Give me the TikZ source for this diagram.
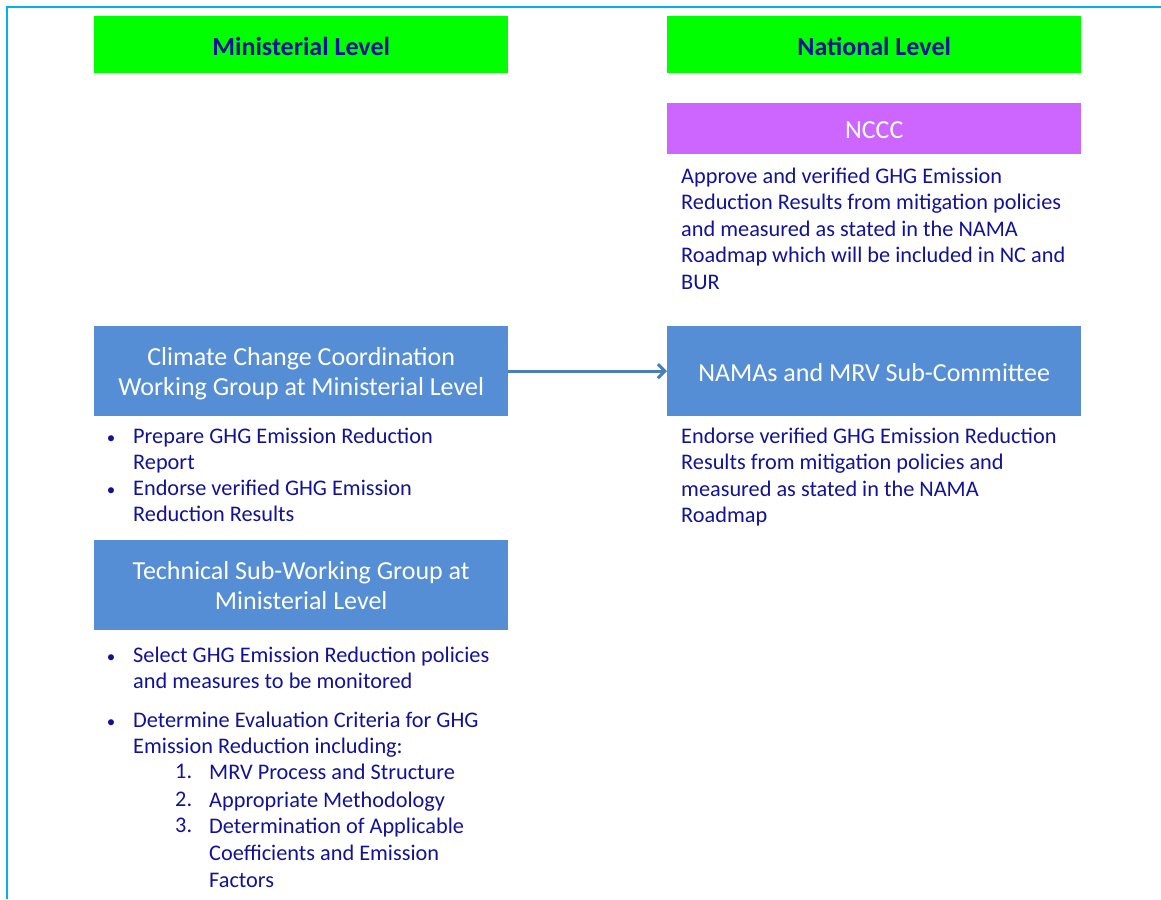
\documentclass[tikz,border=0pt]{standalone}
\usepackage{fontspec}
\setmainfont{Carlito}
\usepackage{tikz}
\usetikzlibrary{arrows.meta}

\definecolor{navytext}{RGB}{18,18,150}
\definecolor{levelgreen}{RGB}{0,255,0}
\definecolor{ncccpurple}{RGB}{204,102,255}
\definecolor{groupblue}{RGB}{85,142,213}
\definecolor{arrowblue}{RGB}{74,126,187}
\definecolor{framecyan}{RGB}{0,176,240}

\begin{document}
\begin{tikzpicture}[x=1pt,y=-1pt,
	level/.style={fill=levelgreen,text=navytext,anchor=north west,inner sep=0,
		minimum width=414,minimum height=57,text height=22pt,text depth=0pt,
		font=\fontsize{26}{30}\selectfont\bfseries},
	group/.style={fill=groupblue,text=white,anchor=north west,inner sep=0,align=center,
		minimum width=414,minimum height=90,text depth=0pt,font=\fontsize{26}{30}\selectfont},
	note/.style={text=navytext,anchor=north west,yshift=15.5pt,inner sep=0,align=left,
		font=\fontsize{22.3}{26.5}\selectfont},
	dot/.style={text=navytext,anchor=base,inner sep=0,font=\fontsize{17}{20}\selectfont}]
	\useasboundingbox (0,0) rectangle (1161,899);
	\draw[framecyan,line width=2.2] (7,899) -- (7,7) -- (1161,7);
	% headers
	\node[level] (minlevel) at (94,16) {Ministerial Level};
	\node[level] (natlevel) at (667,16) {National Level};
	% national side
	\node[group,fill=ncccpurple,minimum height=51,text height=20pt] (nccc) at (667,103) {NCCC};
	\node[note] (ncccnote) at (681,183) {Approve and verified GHG Emission\\Reduction Results from mitigation policies\\and measured as stated in the NAMA\\Roadmap which will be included in NC and\\BUR};
	\node[group,text height=21pt] (namas) at (667,326) {NAMAs and MRV Sub-Committee};
	\node[note] (namasnote) at (681,443) {Endorse verified GHG Emission Reduction\\Results from mitigation policies and\\measured as stated in the NAMA\\Roadmap};
	% ministerial side
	\node[group] (ccwg) at (94,326) {Climate Change Coordination\\Working Group at Ministerial Level};
	\node[dot] (ccwgdota) at (111,443) {\textbullet};
	\node[note] (ccwgitema) at (133,443) {Prepare GHG Emission Reduction\\Report};
	\node[dot] (ccwgdotb) at (111,495) {\textbullet};
	\node[note] (ccwgitemb) at (133,495) {Endorse verified GHG Emission\\Reduction Results};
	\node[group] (tswg) at (94,540) {Technical Sub-Working Group at\\Ministerial Level};
	\node[dot] (tswgdota) at (111,662) {\textbullet};
	\node[note] (tswgitema) at (133,662) {Select GHG Emission Reduction policies\\and measures to be monitored};
	\node[dot] (tswgdotb) at (111,727) {\textbullet};
	\node[note] (tswgitemb) at (133,727) {Determine Evaluation Criteria for GHG\\Emission Reduction including:};
	\node[note] (numa) at (175,779) {1.};
	\node[note] (crita) at (209,779) {MRV Process and Structure};
	\node[note] (numb) at (175,807) {2.};
	\node[note] (critb) at (209,807) {Appropriate Methodology};
	\node[note] (numc) at (175,833) {3.};
	\node[note,font=\fontsize{22.3}{27}\selectfont] (critc) at (209,833) {Determination of Applicable\\Coefficients and Emission\\Factors};
	% link
	\draw[arrowblue,line width=3,-{Straight Barb[length=7pt,width=14pt]}] (ccwg.east) -- (namas.west);
\end{tikzpicture}
\end{document}
